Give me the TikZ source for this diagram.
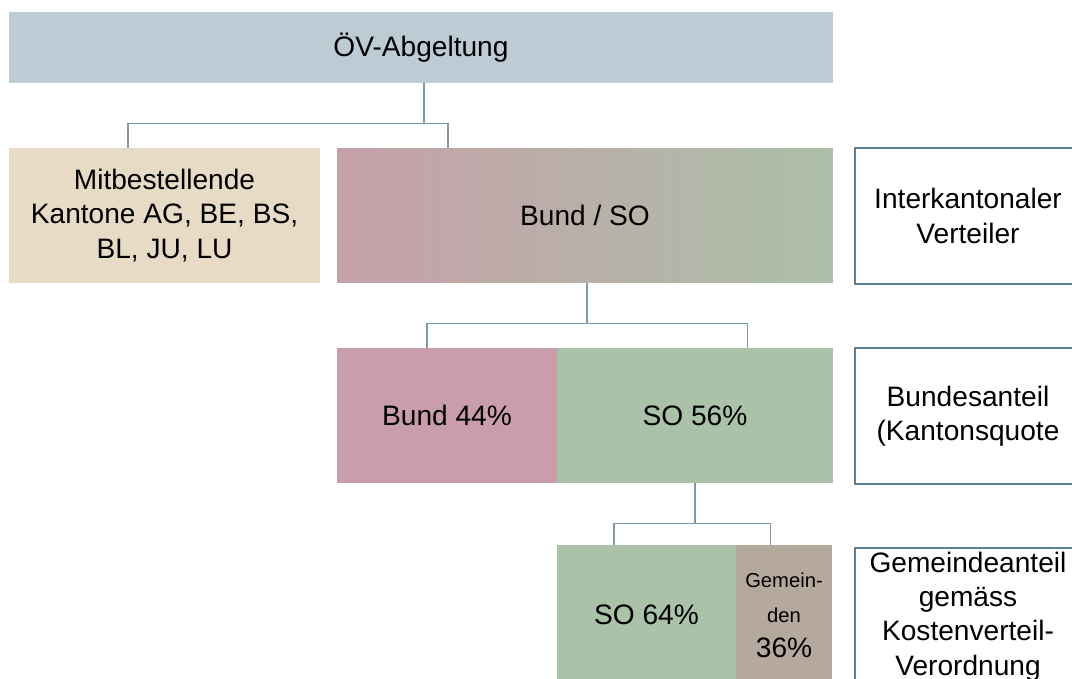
\documentclass[tikz,border=0pt]{standalone}
\usepackage{fontspec}
\setmainfont{Liberation Sans}
\usepackage{tikz}
\usetikzlibrary{calc}
\usepackage{xcolor}

\definecolor{kopf}{HTML}{BDCCD4}
\definecolor{mitbest}{HTML}{E8DBC5}
\definecolor{bundrot}{HTML}{C99DA9}
\definecolor{sogruen}{HTML}{A9C2A8}
\definecolor{gemfarbe}{HTML}{B5A89C}
\definecolor{rand}{HTML}{5F7F94}
\definecolor{linie}{HTML}{7E9AAD}

\pgfdeclarehorizontalshading{bundso}{100bp}{color(0bp)=(bundrot); color(20bp)=(bundrot); color(80bp)=(sogruen); color(100bp)=(sogruen)}

\tikzset{
    feld/.style={rectangle, inner sep=0pt, align=center, font=\fontsize{16}{19.5}\selectfont},
    rahmen/.style={feld, draw=rand, line width=1.6pt, fill=white},
    link/.style={draw=linie, line width=0.9pt},
}

\begin{document}
\begin{tikzpicture}[x=0.02cm, y=-0.02cm]

    \clip (0,0) rectangle (1072,679);

    \node[feld, fill=kopf, minimum width=16.48cm, minimum height=1.42cm] (abg) at (421,47.5) {ÖV-Abgeltung};

    \node[feld, fill=mitbest, minimum width=6.22cm, minimum height=2.7cm] (mit) at (164.5,215.5)
        {Mitbestellende\\Kantone AG, BE, BS,\\BL, JU, LU};
    \node[feld, shade, shading=bundso, minimum width=9.92cm, minimum height=2.7cm] (bundso) at (585,215.5) {Bund / SO};
    \node[rahmen, minimum width=4.52cm, minimum height=2.72cm] (inter) at (968,216) {Interkantonaler\\Verteiler};

    \node[feld, fill=bundrot, minimum width=4.4cm, minimum height=2.7cm] (bund) at (447,415.5) {Bund 44\%};
    \node[feld, fill=sogruen, minimum width=5.52cm, minimum height=2.7cm] (so) at (695,415.5) {SO 56\%};
    \node[rahmen, minimum width=4.52cm, minimum height=2.72cm] (anteil) at (968,416) {Bundesanteil\\(Kantonsquote};

    \node[feld, fill=sogruen, minimum width=3.58cm, minimum height=2.8cm] (sokt) at (646.5,615) {SO 64\%};
    \node[feld, fill=gemfarbe, minimum width=1.92cm, minimum height=2.8cm,
          font=\fontsize{11.5}{20}\selectfont] (gem) at (784,615)
        {Gemein-\\den\\{\fontsize{16}{19}\selectfont 36\%}};
    \node[rahmen, minimum width=4.52cm, minimum height=2.74cm] (gemanteil) at (968,616.5)
        {Gemeindeanteil\\gemäss\\Kostenverteil-\\Verordnung};

    \draw[link] ($(abg.south)+(3,0)$) --++(0,40) coordinate (j1);
    \draw[link] ($(mit.north west)!0.383!(mit.north east)$) |- (j1)
        -| ($(bundso.north west)!0.224!(bundso.north east)$);

    \draw[link] ($(bundso.south)+(2,0)$) --++(0,40) coordinate (j2);
    \draw[link] ($(bund.north west)!0.41!(bund.north east)$) |- (j2)
        -| ($(so.north west)!0.69!(so.north east)$);

    \draw[link] (so.south) --++(0,40) coordinate (j3);
    \draw[link] ($(sokt.north west)!0.32!(sokt.north east)$) |- (j3)
        -| ($(gem.north west)!0.36!(gem.north east)$);

\end{tikzpicture}
\end{document}
